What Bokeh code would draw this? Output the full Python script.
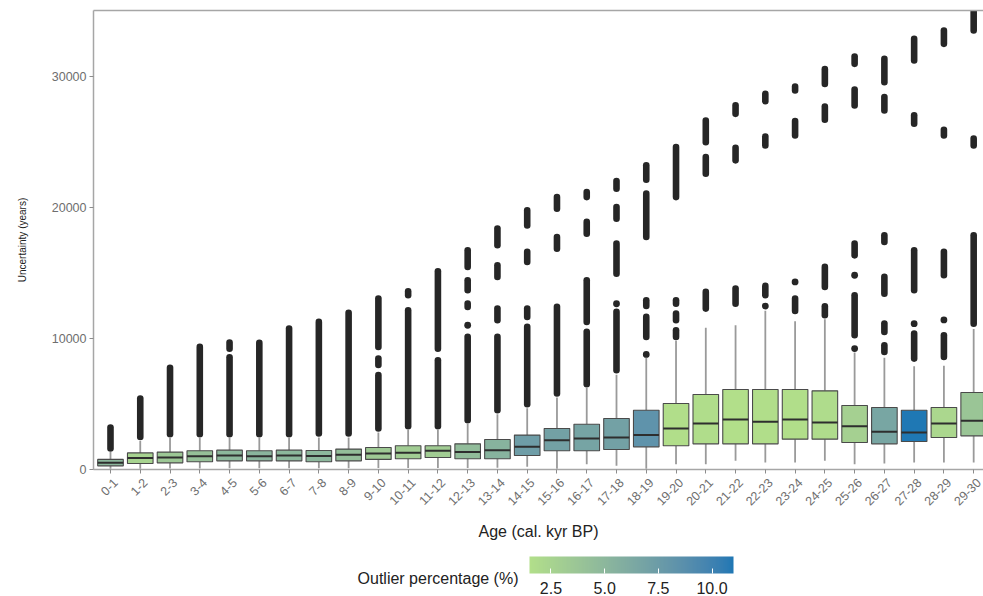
import numpy as np
from math import pi
from bokeh.plotting import figure
from bokeh.models import (ColumnDataSource, Range1d, FixedTicker, ColorBar, LinearAxis,
                          LinearColorMapper, PrintfTickFormatter)
from bokeh.layouts import column
from bokeh.transform import transform
from bokeh.embed import file_html
from bokeh.resources import INLINE
from bokeh.core.properties import value

# ---------------- data ----------------
categories = ["0-1", "1-2", "2-3", "3-4", "4-5", "5-6", "6-7", "7-8", "8-9", "9-10",
              "10-11", "11-12", "12-13", "13-14", "14-15", "15-16", "16-17", "17-18",
              "18-19", "19-20", "20-21", "21-22", "22-23", "23-24", "24-25", "25-26",
              "26-27", "27-28", "28-29", "29-30"]

q1 = [250, 430, 480, 560, 630, 630, 630, 560, 630, 740,
      790, 890, 790, 790, 1040, 1400, 1400, 1500, 1700, 1780,
      1930, 1930, 1930, 2290, 2290, 2030, 1930, 2110, 2420, 2540]
median = [480, 840, 890, 990, 1040, 990, 1040, 1010, 1090, 1200,
          1250, 1400, 1300, 1450, 1700, 2210, 2340, 2420, 2600, 3100,
          3490, 3790, 3610, 3790, 3560, 3280, 2850, 2800, 3490, 3690]
q3 = [740, 1240, 1300, 1400, 1450, 1400, 1450, 1420, 1530, 1650,
      1780, 1780, 1930, 2260, 2600, 3100, 3430, 3870, 4500, 5010,
      5700, 6080, 6080, 6080, 5980, 4860, 4710, 4500, 4710, 5850]
whisker_hi = [1300, 2150, 2380, 2380, 2380, 2380, 2380, 2420, 2420, 2800,
              2980, 2980, 3440, 4200, 4650, 5470, 6190, 7200, 8500, 9800,
              10800, 11000, 12100, 11300, 11450, 8900, 8500, 7850, 7900, 10700]
whisker_lo = [20, 30, 40, 50, 60, 60, 60, 60, 70, 80,
              80, 90, 90, 100, 180, 30, 380, 250, 20, 380,
              380, 630, 510, 510, 630, 380, 430, 510, 510, 510]
outlier_pct = [5.0, 2.6, 3.6, 4.2, 5.0, 5.2, 5.0, 5.0, 4.4, 3.4,
               3.2, 3.2, 4.6, 5.4, 7.4, 7.0, 6.8, 7.0, 8.4, 1.6,
               1.7, 1.5, 1.6, 1.6, 1.8, 2.8, 6.6, 11.0, 2.2, 3.8]

# runs of (densely packed) outlier points: (lowest, highest) value of each run
outlier_runs = [
    [(1320, 3430)],
    [(2210, 5650)],
    [(2420, 7990)],
    [(2420, 9590)],
    [(2420, 8800), (8950, 9920)],
    [(2420, 9900)],
    [(2420, 10990)],
    [(2470, 11500)],
    [(2470, 12190)],
    [(2850, 7430), (7700, 8700), (9080, 13280)],
    [(3030, 12390), (13030, 13840)],
    [(3030, 8570), (8950, 15370)],
    [(3490, 10360), (10740, 11240), (12140, 12900), (13410, 14680), (15190, 16970)],
    [(4250, 10360), (11120, 12520), (14430, 15830), (16850, 18630)],
    [(4710, 11120), (11370, 12520), (15570, 16850), (18370, 20020)],
    [(5520, 12650), (16590, 17990), (19640, 21040)],
    [(6240, 10740), (10990, 14680), (17730, 19140), (20530, 21430)],
    [(7300, 12270), (12470, 12800), (14680, 17480), (18880, 20280), (21170, 22260)],
    [(8570, 8950), (9850, 11880), (12210, 13150), (17480, 21300), (21860, 23460)],
    [(9850, 10860), (11120, 12140), (12390, 13150), (20530, 24860)],
    [(12010, 13790), (22310, 24100), (24730, 26890)],
    [(12390, 14050), (23340, 24810), (26890, 28040)],
    [(12270, 12650), (13030, 14250), (24480, 25670), (27860, 28930)],
    [(11830, 13280), (14050, 14560), (25240, 26850), (28680, 29490)],
    [(11500, 12700), (13660, 15700), (26440, 27960), (29180, 30810)],
    [(9080, 9340), (9980, 13540), (14560, 15060), (16080, 17480), (27530, 29260), (30710, 31780)],
    [(8700, 9720), (10230, 11370), (13150, 14940), (17100, 18120), (27150, 28680), (29310, 31600)],
    [(8190, 10610), (10860, 11370), (13410, 16970), (26130, 27280), (30970, 33130)],
    [(8320, 10480), (11150, 11650), (14560, 16850), (25240, 26180), (32240, 33760)],
    [(10860, 18120), (24480, 25500), (33260, 35200)],
]

y_ticks = [0, 10000, 20000, 30000]
colorbar_ticks = [2.5, 5.0, 7.5, 10.0]
pct_low, pct_high = 1.5, 11.0

# ---------------- colour gradient (Lab interpolation, like ggplot) ----------------
def _hex_to_lab(h):
    rgb = np.array([int(h[i:i + 2], 16) for i in (1, 3, 5)]) / 255.0
    lin = np.where(rgb <= 0.04045, rgb / 12.92, ((rgb + 0.055) / 1.055) ** 2.4)
    M = np.array([[0.4124, 0.3576, 0.1805], [0.2126, 0.7152, 0.0722], [0.0193, 0.1192, 0.9505]])
    xyz = M @ lin / np.array([0.95047, 1.0, 1.08883])
    f = np.where(xyz > 0.008856, np.cbrt(xyz), 7.787 * xyz + 16 / 116)
    return np.array([116 * f[1] - 16, 500 * (f[0] - f[1]), 200 * (f[1] - f[2])])


def _lab_to_hex(lab):
    fy = (lab[0] + 16) / 116
    fx = fy + lab[1] / 500
    fz = fy - lab[2] / 200
    f = np.array([fx, fy, fz])
    xyz = np.where(f ** 3 > 0.008856, f ** 3, (f - 16 / 116) / 7.787) * np.array([0.95047, 1.0, 1.08883])
    Mi = np.array([[3.2406, -1.5372, -0.4986], [-0.9689, 1.8758, 0.0415], [0.0557, -0.2040, 1.0570]])
    lin = np.clip(Mi @ xyz, 0, 1)
    rgb = np.where(lin <= 0.0031308, 12.92 * lin, 1.055 * lin ** (1 / 2.4) - 0.055)
    rgb = np.clip(np.round(rgb * 255), 0, 255).astype(int)
    return "#%02x%02x%02x" % tuple(rgb)


lab_lo, lab_hi = _hex_to_lab("#B2DF8A"), _hex_to_lab("#1F78B4")
palette = [_lab_to_hex(lab_lo + t * (lab_hi - lab_lo)) for t in np.linspace(0, 1, 256)]
mapper = LinearColorMapper(palette=palette, low=pct_low, high=pct_high)

FONT = "Liberation Sans"
AXIS_GREY = "#a6a6a6"

# ---------------- main figure ----------------
x_start, x_end = -0.571, 29.33
y_top = 35040
p = figure(width=983, height=550, x_range=Range1d(x_start, x_end), y_range=Range1d(-30, y_top),
           output_backend="svg", toolbar_location=None, x_axis_type=None,
           min_border_left=93, min_border_top=10, min_border_right=0, min_border_bottom=81)
p.background_fill_color = "white"
p.border_fill_color = "white"
p.grid.visible = False
p.outline_line_color = None

xs = list(range(len(categories)))
bw = 0.86
src = ColumnDataSource(dict(x=xs, cat=categories, q1=q1, med=median, q3=q3,
                            whi=whisker_hi, wlo=whisker_lo, pct=outlier_pct,
                            xl=[x - bw / 2 for x in xs], xr=[x + bw / 2 for x in xs]))

# whiskers
p.segment(x0="x", y0="q3", x1="x", y1="whi", source=src, line_color="#9a9a9a", line_width=1.8)
p.segment(x0="x", y0="q1", x1="x", y1="wlo", source=src, line_color="#9a9a9a", line_width=1.8)

# outliers (dense runs of points)
dot_r = 3.3 * (y_top + 30) / 459.0
seg_x, seg_y0, seg_y1, dot_x, dot_y = [], [], [], [], []
for i, runs in enumerate(outlier_runs):
    for lo, hi in runs:
        a, b = lo + dot_r, hi - dot_r
        if b - a < 30:
            dot_x.append(i)
            dot_y.append((lo + hi) / 2)
        else:
            seg_x.append(i)
            seg_y0.append(a)
            seg_y1.append(b)
p.segment(x0=seg_x, y0=seg_y0, x1=seg_x, y1=seg_y1, line_width=6.6, line_cap="round",
          line_color="#262626")
p.scatter(x=dot_x, y=dot_y, size=6.8, fill_color="#262626", line_color=None)

# boxes + medians
p.vbar(x="x", width=bw, top="q3", bottom="q1", source=src,
       fill_color=transform("pct", mapper), line_color="#4a4a4a", line_width=1.1)
p.segment(x0="xl", y0="med", x1="xr", y1="med", source=src, line_color="#2e2e2e", line_width=2.0)

# y axis
ya = p.yaxis[0]
ya.ticker = FixedTicker(ticks=y_ticks)
ya.axis_line_color = AXIS_GREY
ya.axis_line_width = 1.5
ya.major_tick_line_color = "#8c8c8c"
ya.major_tick_out = 4
ya.major_tick_in = 0
ya.minor_tick_line_color = None
ya.major_label_text_font = FONT
ya.major_label_text_font_size = "12.5px"
ya.major_label_text_color = "#6e6e6e"
ya.major_label_standoff = 3
ya.axis_label = "Uncertainty (years)"
ya.axis_label_text_font = FONT
ya.axis_label_text_font_style = "normal"
ya.axis_label_text_color = "#222222"
ya.axis_label_text_font_size = "10px"
ya.axis_label_standoff = 21

# x axis: category labels on a slightly shifted range so the rotated labels sit centred
# under the category ticks (drawn as minor ticks at the category centres)
lab_shift = 0.17
p.extra_x_ranges = {"lab": Range1d(x_start - lab_shift, x_end - lab_shift)}
lab_axis = LinearAxis(x_range_name="lab",
                      ticker=FixedTicker(ticks=xs, minor_ticks=[x - lab_shift for x in xs]),
                      major_label_overrides={i: c for i, c in enumerate(categories)},
                      major_label_orientation=pi / 4,
                      axis_line_color=AXIS_GREY, axis_line_width=1.5,
                      major_tick_line_color=None, major_tick_out=4, major_tick_in=0,
                      minor_tick_line_color="#8c8c8c", minor_tick_out=4, minor_tick_in=0,
                      major_label_text_font=FONT, major_label_text_font_size="12.5px",
                      major_label_text_color="#6e6e6e", major_label_standoff=7,
                      axis_label="Age (cal. kyr BP)", axis_label_text_font=FONT,
                      axis_label_text_font_style="normal", axis_label_text_color="#222222",
                      axis_label_text_font_size="16px", axis_label_standoff=11)
p.add_layout(lab_axis, "below")

# top panel border
top_axis = LinearAxis(ticker=FixedTicker(ticks=[]), axis_line_color=AXIS_GREY, axis_line_width=1.5,
                      major_tick_line_color=None, minor_tick_line_color=None,
                      major_label_standoff=0)
p.add_layout(top_axis, "above")

# ---------------- legend strip (colour bar) ----------------
p2 = figure(width=983, height=46, x_range=Range1d(93, 983), y_range=Range1d(0, 46),
            output_backend="svg", toolbar_location=None, x_axis_type=None, y_axis_type=None,
            min_border_left=93, min_border_right=0, min_border_top=0, min_border_bottom=0)
p2.grid.visible = False
p2.outline_line_color = None
p2.background_fill_color = "white"
cb = ColorBar(color_mapper=mapper, orientation="horizontal", location=(436, 0),
              width=204, height=17, padding=0, ticker=FixedTicker(ticks=colorbar_ticks),
              formatter=PrintfTickFormatter(format="%.1f"),
              major_label_text_font=FONT, major_label_text_font_size="16px",
              major_label_text_color="#222222", label_standoff=8,
              major_tick_line_color="white", major_tick_in=5, major_tick_out=0,
              minor_tick_line_color=None, bar_line_color=None,
              border_line_color=None, background_fill_color=None)
p2.add_layout(cb)
p2.text(x=[518], y=[18], text=["Outlier percentage (%)"], text_align="right",
        text_baseline="middle", text_font=value(FONT), text_font_size="16px",
        text_color="#222222")

layout = column(p, p2, spacing=0)
open("out.html", "w").write(file_html(layout, INLINE))
